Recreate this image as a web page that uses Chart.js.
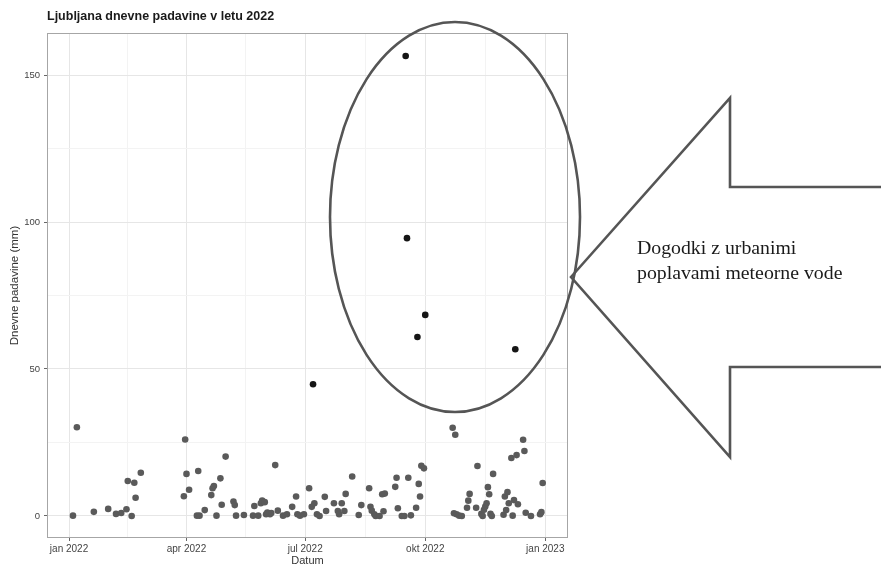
<!DOCTYPE html>
<html>
<head>
<meta charset="utf-8">
<title>Ljubljana dnevne padavine v letu 2022</title>
<script src="https://cdn.jsdelivr.net/npm/chart.js@4.4.0/dist/chart.umd.min.js"></script>
<style>
  html, body { margin: 0; padding: 0; background: #fff; }
  #wrap { width: 881px; height: 566px; position: relative; }
</style>
</head>
<body>
<div id="wrap"><canvas id="rainChart"></canvas></div>
<script>
// Daily precipitation, Ljubljana 2022
const dates = [
  '2022-01-04', '2022-01-07', '2022-01-20', '2022-01-31', '2022-02-06', '2022-02-10',
  '2022-02-14', '2022-02-15', '2022-02-18', '2022-02-20', '2022-02-21', '2022-02-25',
  '2022-03-30', '2022-03-31', '2022-04-01', '2022-04-03', '2022-04-09', '2022-04-10',
  '2022-04-11', '2022-04-15', '2022-04-20', '2022-04-21', '2022-04-22', '2022-04-24',
  '2022-04-27', '2022-04-28', '2022-05-01', '2022-05-07', '2022-05-08', '2022-05-09',
  '2022-05-15', '2022-05-22', '2022-05-23', '2022-05-26', '2022-05-28', '2022-05-29',
  '2022-05-31', '2022-06-01', '2022-06-02', '2022-06-04', '2022-06-05', '2022-06-08',
  '2022-06-10', '2022-06-14', '2022-06-17', '2022-06-21', '2022-06-24', '2022-06-25',
  '2022-06-27', '2022-06-30', '2022-07-04', '2022-07-06', '2022-07-07', '2022-07-08',
  '2022-07-10', '2022-07-12', '2022-07-16', '2022-07-17', '2022-07-23', '2022-07-26',
  '2022-07-27', '2022-07-29', '2022-07-31', '2022-08-01', '2022-08-06', '2022-08-11',
  '2022-08-13', '2022-08-19', '2022-08-20', '2022-08-21', '2022-08-23', '2022-08-24',
  '2022-08-27', '2022-08-29', '2022-08-30', '2022-08-31', '2022-09-08', '2022-09-09',
  '2022-09-10', '2022-09-13', '2022-09-15', '2022-09-16', '2022-09-17', '2022-09-18',
  '2022-09-20', '2022-09-24', '2022-09-25', '2022-09-26', '2022-09-27', '2022-09-28',
  '2022-09-30', '2022-10-01', '2022-10-22', '2022-10-23', '2022-10-24', '2022-10-25',
  '2022-10-27', '2022-10-29', '2022-11-02', '2022-11-03', '2022-11-04', '2022-11-09',
  '2022-11-10', '2022-11-13', '2022-11-14', '2022-11-15', '2022-11-16', '2022-11-17',
  '2022-11-18', '2022-11-19', '2022-11-20', '2022-11-21', '2022-11-22', '2022-11-30',
  '2022-12-01', '2022-12-02', '2022-12-03', '2022-12-04', '2022-12-06', '2022-12-07',
  '2022-12-08', '2022-12-09', '2022-12-10', '2022-12-11', '2022-12-15', '2022-12-16',
  '2022-12-17', '2022-12-21', '2022-12-28', '2022-12-29', '2022-12-30'
];
const precip = [
  0.1, 30.2, 1.4, 2.4, 0.7, 1.0,
  2.3, 11.9, 0.0, 11.3, 6.2, 14.7,
  6.7, 26.0, 14.3, 8.9, 0.1, 15.3,
  0.1, 2.0, 7.1, 9.4, 10.2, 0.1,
  12.8, 3.8, 20.2, 4.9, 3.7, 0.1,
  0.3, 0.1, 3.4, 0.1, 4.3, 5.2,
  4.7, 0.6, 1.2, 0.6, 1.0, 17.3,
  1.8, 0.1, 0.6, 3.1, 6.6, 0.6,
  0.1, 0.6, 9.4, 3.1, 44.8, 4.3,
  0.6, 0.0, 6.5, 1.7, 4.3, 1.7,
  0.6, 4.3, 1.7, 7.5, 13.4, 0.3,
  3.7, 9.4, 3.1, 1.8, 0.6, 0.0,
  0.0, 7.4, 1.6, 7.6, 9.9, 13.0,
  2.6, 0.0, 0.0, 156.5, 94.5, 13.0,
  0.2, 2.8, 60.9, 10.9, 6.6, 17.1,
  16.2, 68.4, 30.0, 0.9, 27.6, 0.6,
  0.1, 0.0, 2.8, 5.2, 7.5, 2.8,
  17.0, 0.7, 0.0, 2.1, 3.2, 4.3,
  9.8, 7.4, 0.7, 0.0, 14.3, 0.4,
  6.6, 2.0, 8.1, 4.3, 19.7, 0.1,
  5.4, 56.7, 20.7, 4.0, 25.9, 22.1,
  1.1, 0.0, 0.6, 1.3, 11.2
];

// axis breaks
const xTickDates = ['2022-01-01', '2022-04-01', '2022-07-01', '2022-10-01', '2023-01-01'];
const xTickLabels = ['jan 2022', 'apr 2022', 'jul 2022', 'okt 2022', 'jan 2023'];
const yTicks = [0, 50, 100, 150];
const yTickLabels = ['0', '50', '100', '150'];

// urban stormwater flood events are marked darker
const eventThreshold = 40;

const DAY = 86400000;
const origin = Date.parse('2022-01-01');
const toDay = d => (Date.parse(d) - origin) / DAY;

const points = dates.map((d, i) => ({ x: toDay(d), y: precip[i] }));

const xMajor = xTickDates.map(toDay);
const xMinor = xMajor.slice(1).map((v, i) => (v + xMajor[i]) / 2);
const yMinor = yTicks.slice(1).map((v, i) => (v + yTicks[i]) / 2);

const isMajorX = v => xMajor.some(m => Math.abs(m - v) < 0.01);
const isMajorY = v => yTicks.includes(v);

// panel border + hand drawn ellipse / arrow overlay
const overlay = {
  id: 'overlay',
  afterDatasetsDraw(chart) {
    const { ctx, chartArea: a } = chart;
    ctx.save();
    ctx.strokeStyle = '#a6a6a6';
    ctx.lineWidth = 1;
    ctx.strokeRect(a.left + 0.5, a.top + 0.5, a.right - a.left - 1, a.bottom - a.top - 1);
    ctx.restore();
  },
  afterDraw(chart) {
    const ctx = chart.ctx;
    ctx.save();
    ctx.strokeStyle = '#555';
    ctx.lineWidth = 2.6;
    ctx.beginPath();
    ctx.ellipse(455, 217, 125, 195, 0, 0, Math.PI * 2);
    ctx.stroke();

    ctx.lineJoin = 'miter';
    ctx.beginPath();
    ctx.moveTo(571, 277);
    ctx.lineTo(730, 98);
    ctx.lineTo(730, 187);
    ctx.lineTo(890, 187);
    ctx.lineTo(890, 367);
    ctx.lineTo(730, 367);
    ctx.lineTo(730, 457);
    ctx.closePath();
    ctx.stroke();

    ctx.fillStyle = '#1a1a1a';
    ctx.font = '19.8px "Liberation Serif", "Times New Roman", serif';
    ctx.textBaseline = 'alphabetic';
    ctx.fillText('Dogodki z urbanimi', 637, 254);
    ctx.fillText('poplavami meteorne vode', 637, 279);
    ctx.restore();
  }
};

new Chart(document.getElementById('rainChart'), {
  type: 'scatter',
  data: {
    datasets: [{
      label: 'Dnevne padavine',
      data: points,
      pointRadius: 3.3,
      pointHoverRadius: 3.3,
      borderWidth: 0,
      backgroundColor: ctx => (ctx.raw && ctx.raw.y > eventThreshold ? '#151515' : '#5a5a5a')
    }]
  },
  options: {
    responsive: true,
    maintainAspectRatio: false,
    animation: false,
    layout: { padding: { left: 0, right: 313, top: 0, bottom: 0 } },
    plugins: {
      legend: { display: false },
      tooltip: { enabled: false },
      title: {
        display: true,
        text: 'Ljubljana dnevne padavine v letu 2022',
        align: 'start',
        fullSize: false,
        color: '#1a1a1a',
        font: { family: '"Liberation Sans", Arial, sans-serif', size: 12.5, weight: 'bold', lineHeight: 1.2 },
        padding: { top: 9, bottom: 9 }
      }
    },
    scales: {
      x: {
        type: 'linear',
        min: -16.9,
        max: 382.4,
        afterBuildTicks: s => {
          s.ticks = xMajor.concat(xMinor).sort((p, q) => p - q).map(v => ({ value: v }));
        },
        afterFit: s => { s.height = 28; },
        grid: {
          color: c => (c.tick && isMajorX(c.tick.value) ? '#e6e6e6' : '#f3f3f3'),
          tickColor: c => (c.tick && isMajorX(c.tick.value) ? '#666' : 'rgba(0,0,0,0)'),
          tickLength: 3
        },
        border: { display: false },
        ticks: {
          autoSkip: false,
          maxRotation: 0,
          padding: 2,
          color: '#444',
          font: { family: '"Liberation Sans", Arial, sans-serif', size: 10 },
          callback: v => {
            const i = xMajor.findIndex(m => Math.abs(m - v) < 0.01);
            return i >= 0 ? xTickLabels[i] : '';
          }
        },
        title: {
          display: true,
          text: 'Datum',
          color: '#333',
          font: { family: '"Liberation Sans", Arial, sans-serif', size: 11, lineHeight: 1 },
          padding: { top: 0, bottom: 0 }
        }
      },
      y: {
        min: -7.5,
        max: 164.3,
        afterBuildTicks: s => {
          s.ticks = yTicks.concat(yMinor).sort((p, q) => p - q).map(v => ({ value: v }));
        },
        afterFit: s => { s.width = 47; },
        grid: {
          color: c => (c.tick && isMajorY(c.tick.value) ? '#e6e6e6' : '#f3f3f3'),
          tickColor: c => (c.tick && isMajorY(c.tick.value) ? '#666' : 'rgba(0,0,0,0)'),
          tickLength: 3
        },
        border: { display: false },
        ticks: {
          autoSkip: false,
          padding: 4,
          color: '#444',
          font: { family: '"Liberation Sans", Arial, sans-serif', size: 9.5 },
          callback: v => {
            const i = yTicks.indexOf(v);
            return i >= 0 ? yTickLabels[i] : '';
          }
        },
        title: {
          display: true,
          text: 'Dnevne padavine (mm)',
          color: '#333',
          font: { family: '"Liberation Sans", Arial, sans-serif', size: 11.5, lineHeight: 1.2 },
          padding: { top: 8, bottom: 0 }
        }
      }
    }
  },
  plugins: [overlay]
});
</script>
</body>
</html>
